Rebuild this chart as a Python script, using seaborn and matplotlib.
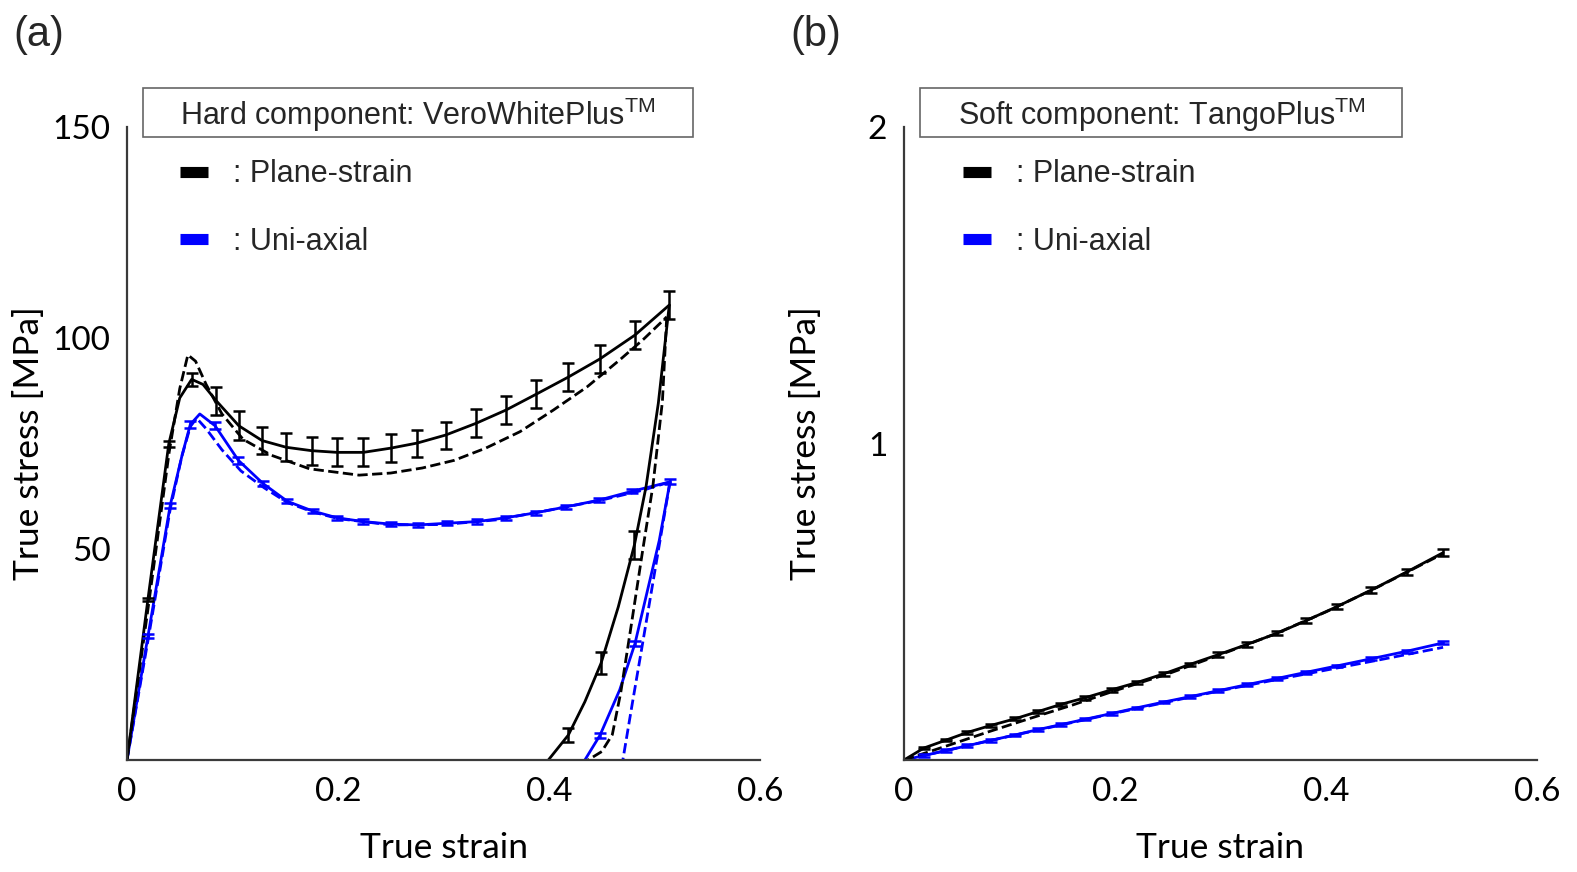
import numpy as np
import pandas as pd
import matplotlib
matplotlib.use("Agg")
import matplotlib.pyplot as plt
from matplotlib.lines import Line2D
from matplotlib.patches import Rectangle
import seaborn as sns

# ---------------- data: (a) hard component ----------------
hard_ps_exp_x = [0, 0.0198, 0.0396, 0.050, 0.0613, 0.072, 0.0847, 0.106, 0.128, 0.151, 0.175, 0.199,
                 0.224, 0.250, 0.275, 0.302, 0.331, 0.359, 0.388, 0.418, 0.448, 0.4815, 0.514]
hard_ps_exp_y = [0, 38.0, 74.9, 85.8, 90.2, 89.0, 85.1, 79.2, 75.7, 74.1, 73.3, 72.9,
                 72.9, 73.9, 75.1, 77.0, 79.8, 82.9, 86.7, 90.7, 95.0, 100.7, 107.8]
hard_ps_exp_err = [np.nan, 0.4, 0.8, np.nan, 1.5, np.nan, 3.3, 3.4, 3.3, 3.3, 3.3, 3.3,
                   3.3, 3.3, 3.2, 3.2, 3.3, 3.3, 3.4, 3.3, 3.3, 3.3, 3.4]
hard_ps_unl_x = [0.514, 0.5036, 0.492, 0.481, 0.4657, 0.4493, 0.434, 0.4183, 0.3994]
hard_ps_unl_y = [107.8, 84.5, 64.8, 51.0, 36.3, 22.9, 13.8, 5.9, 0]
hard_ps_unl_err = [np.nan, np.nan, np.nan, 3.3, np.nan, 2.6, np.nan, 1.7, np.nan]

hard_ps_mod_x = [0, 0.02, 0.04, 0.05, 0.0577, 0.065, 0.075, 0.09, 0.11, 0.137, 0.173, 0.22,
                 0.25, 0.28, 0.31, 0.34, 0.3725, 0.404, 0.436, 0.467, 0.49, 0.5116]
hard_ps_mod_y = [0, 36, 73, 88, 96, 94.5, 89, 82, 76, 72.2, 69.0, 67.5,
                 68.0, 69.2, 71.0, 73.9, 77.8, 82.9, 88.4, 94.8, 99.8, 105]
hard_ps_mod_unl_x = [0.5116, 0.5075, 0.4985, 0.489, 0.478, 0.468, 0.460, 0.450, 0.437]
hard_ps_mod_unl_y = [105, 85, 65, 50, 32, 16, 6, 2, 0]

hard_ua_exp_x = [0, 0.0199, 0.041, 0.052, 0.060, 0.069, 0.0835, 0.1056, 0.129, 0.152, 0.176, 0.199,
                 0.224, 0.250, 0.276, 0.303, 0.332, 0.359, 0.388, 0.4165, 0.4477, 0.479, 0.5147]
hard_ua_exp_y = [0, 29.4, 60.4, 72.0, 79.5, 82.0, 79.2, 71.0, 65.5, 61.3, 59.0, 57.4,
                 56.5, 55.9, 55.7, 56.1, 56.5, 57.4, 58.6, 60.0, 61.6, 63.7, 65.9]
hard_ua_exp_err = [np.nan, 0.5, 0.6, np.nan, 0.8, np.nan, 0.8, 0.8, 0.6, 0.5, 0.5, 0.5,
                   0.5, 0.5, 0.5, 0.5, 0.5, 0.5, 0.5, 0.5, 0.5, 0.5, 0.6]
hard_ua_unl_x = [0.5147, 0.5045, 0.4815, 0.467, 0.4484, 0.434]
hard_ua_unl_y = [65.9, 52.0, 27.6, 16.6, 5.9, 0]
hard_ua_unl_err = [np.nan, np.nan, 0.6, np.nan, 0.6, np.nan]

hard_ua_mod_x = [0, 0.02, 0.041, 0.052, 0.060, 0.066, 0.075, 0.09, 0.108, 0.13, 0.152, 0.176,
                 0.2, 0.25, 0.3, 0.35, 0.4, 0.45, 0.49, 0.5147]
hard_ua_mod_y = [0, 28.5, 59.5, 72, 79, 81, 78.5, 73.5, 68.5, 64.5, 61.0, 58.8,
                 57.2, 55.7, 55.8, 56.9, 59.2, 61.6, 64.0, 65.9]
hard_ua_mod_unl_x = [0.5147, 0.5053, 0.4887, 0.4787, 0.470]
hard_ua_mod_unl_y = [65.9, 52.1, 27.6, 13.0, 0]

# ---------------- data: (b) soft component ----------------
soft_x = [0, 0.019, 0.040, 0.060, 0.082, 0.105, 0.127, 0.149, 0.172, 0.197, 0.221,
          0.246, 0.271, 0.298, 0.325, 0.354, 0.381, 0.410, 0.443, 0.477, 0.511]
soft_ps_exp_y = [0, 0.038, 0.063, 0.087, 0.109, 0.130, 0.153, 0.176, 0.197, 0.222, 0.245,
                 0.272, 0.302, 0.333, 0.365, 0.401, 0.440, 0.484, 0.537, 0.595, 0.655]
soft_ps_exp_err = [np.nan, 0.004, 0.004, 0.004, 0.005, 0.005, 0.005, 0.005, 0.006, 0.006, 0.006,
                   0.006, 0.006, 0.007, 0.007, 0.007, 0.008, 0.008, 0.009, 0.010, 0.012]
soft_ua_exp_y = [0, 0.014, 0.030, 0.045, 0.062, 0.079, 0.096, 0.112, 0.129, 0.147, 0.165,
                 0.183, 0.200, 0.219, 0.238, 0.258, 0.277, 0.297, 0.320, 0.344, 0.370]
soft_ua_exp_err = [np.nan, 0.004, 0.004, 0.004, 0.004, 0.004, 0.004, 0.004, 0.004, 0.004, 0.004,
                   0.004, 0.004, 0.004, 0.004, 0.004, 0.004, 0.004, 0.004, 0.005, 0.005]
soft_ps_mod_x = [0, 0.04, 0.08, 0.12, 0.16, 0.2, 0.25, 0.3, 0.35, 0.4, 0.45, 0.511]
soft_ps_mod_y = [0, 0.044, 0.089, 0.132, 0.174, 0.219, 0.272, 0.333, 0.396, 0.468, 0.548, 0.652]
soft_ua_mod_x = [0, 0.1, 0.2, 0.3, 0.35, 0.4, 0.45, 0.511]
soft_ua_mod_y = [0, 0.075, 0.148, 0.219, 0.252, 0.284, 0.316, 0.356]

x_ticks = [0, 0.2, 0.4, 0.6]
x_tick_labels = ["0", "0.2", "0.4", "0.6"]
hard_y_ticks = [50, 100, 150]
soft_y_ticks = [1, 2]
xlabel = "True strain"
ylabel = "True stress [MPa]"
legend_labels = [": Plane-strain", ": Uni-axial"]
hard_title = r"Hard component: VeroWhitePlus$^{\mathrm{TM}}$"
soft_title = r"Soft component: TangoPlus$^{\mathrm{TM}}$"

# ---------------- style ----------------
sns.set_theme(style="white")
plt.rcParams["font.family"] = ["Lato", "DejaVu Sans"]
plt.rcParams["mathtext.fontset"] = "custom"
plt.rcParams["mathtext.rm"] = "Liberation Sans"
plt.rcParams["mathtext.it"] = "Liberation Sans:italic"
plt.rcParams["mathtext.bf"] = "Liberation Sans:bold"

BLUE = "#0000FF"
BLACK = "#000000"
SPINE = "#3a3a3a"
LW = 2.0

fig = plt.figure(figsize=(15.77, 8.72), dpi=100)
axA = fig.add_axes([127 / 1577, 112 / 872, 633 / 1577, 633 / 872])
axB = fig.add_axes([904 / 1577, 112 / 872, 633 / 1577, 633 / 872])


def draw_curve(ax, x, y, color, ls):
    df = pd.DataFrame({"x": x, "y": y})
    sns.lineplot(data=df, x="x", y="y", ax=ax, color=color, lw=LW, linestyle=ls,
                 sort=False, estimator=None, legend=False)


def draw_err(ax, x, y, err, color):
    df = pd.DataFrame({"x": x, "y": y, "e": err}).dropna()
    ax.errorbar(df["x"], df["y"], yerr=df["e"], fmt="none", ecolor=color,
                elinewidth=1.8, capsize=4.5, capthick=1.8, zorder=4)


# (a)
draw_curve(axA, hard_ua_mod_x, hard_ua_mod_y, BLUE, "--")
draw_curve(axA, hard_ua_mod_unl_x, hard_ua_mod_unl_y, BLUE, "--")
draw_curve(axA, hard_ua_exp_x, hard_ua_exp_y, BLUE, "-")
draw_curve(axA, hard_ua_unl_x, hard_ua_unl_y, BLUE, "-")
draw_err(axA, hard_ua_exp_x, hard_ua_exp_y, hard_ua_exp_err, BLUE)
draw_err(axA, hard_ua_unl_x, hard_ua_unl_y, hard_ua_unl_err, BLUE)
draw_curve(axA, hard_ps_mod_x, hard_ps_mod_y, BLACK, "--")
draw_curve(axA, hard_ps_mod_unl_x, hard_ps_mod_unl_y, BLACK, "--")
draw_curve(axA, hard_ps_exp_x, hard_ps_exp_y, BLACK, "-")
draw_curve(axA, hard_ps_unl_x, hard_ps_unl_y, BLACK, "-")
draw_err(axA, hard_ps_exp_x, hard_ps_exp_y, hard_ps_exp_err, BLACK)
draw_err(axA, hard_ps_unl_x, hard_ps_unl_y, hard_ps_unl_err, BLACK)

# (b)
draw_curve(axB, soft_ua_mod_x, soft_ua_mod_y, BLUE, "--")
draw_curve(axB, soft_x, soft_ua_exp_y, BLUE, "-")
draw_err(axB, soft_x, soft_ua_exp_y, soft_ua_exp_err, BLUE)
draw_curve(axB, soft_ps_mod_x, soft_ps_mod_y, BLACK, "--")
draw_curve(axB, soft_x, soft_ps_exp_y, BLACK, "-")
draw_err(axB, soft_x, soft_ps_exp_y, soft_ps_exp_err, BLACK)

for ax, yt, ylim, title, tx, hx, bw in [
    (axA, hard_y_ticks, (0, 150), hard_title, 0.0837, 0.0837, 0.869),
    (axB, soft_y_ticks, (0, 2), soft_title, 0.0853, 0.0932, 0.761),
]:
    ax.set_xlim(0, 0.6)
    ax.set_ylim(*ylim)
    ax.set_xticks(x_ticks)
    ax.set_xticklabels(x_tick_labels)
    ax.set_yticks(yt)
    ax.set_yticklabels([str(v) for v in yt])
    ax.tick_params(direction="in", length=11, width=1.3, color=SPINE,
                   labelsize=24, pad=12, labelcolor="black")
    for s in ["top", "right"]:
        ax.spines[s].set_visible(False)
    for s in ["left", "bottom"]:
        ax.spines[s].set_color(SPINE)
        ax.spines[s].set_linewidth(1.6)
    ax.set_xlabel(xlabel, fontsize=25.5, labelpad=18, color="black")
    ax.set_ylabel(ylabel, fontsize=25.5, color="black")
    ax.yaxis.set_label_coords(-0.1295, 0.5)
    ax.set_facecolor("white")

    rect = Rectangle((0.0253, 0.984), bw, 0.0774, transform=ax.transAxes,
                     facecolor="white", edgecolor="#666666", lw=1.2,
                     clip_on=False, zorder=10)
    ax.add_patch(rect)
    ax.text(tx, 1.019, title, transform=ax.transAxes, fontsize=22,
            family="Liberation Sans", va="center", ha="left", zorder=11, clip_on=False)

    handles = [Line2D([], [], color=BLACK, lw=8, solid_capstyle="butt"),
               Line2D([], [], color=BLUE, lw=8, solid_capstyle="butt")]
    ax.legend(handles, legend_labels, loc="upper left",
              bbox_to_anchor=(hx, 0.949), frameon=False, borderpad=0,
              borderaxespad=0, handlelength=0.92, handletextpad=0.8,
              labelspacing=1.22, prop={"family": "Liberation Sans", "size": 22})

fig.text(13 / 1577, 1 - 35 / 872, "(a)", fontsize=30, family="Liberation Sans",
         va="center", ha="left")
fig.text(790 / 1577, 1 - 35 / 872, "(b)", fontsize=30, family="Liberation Sans",
         va="center", ha="left")

fig.savefig("out.png", dpi=100, facecolor="white")
